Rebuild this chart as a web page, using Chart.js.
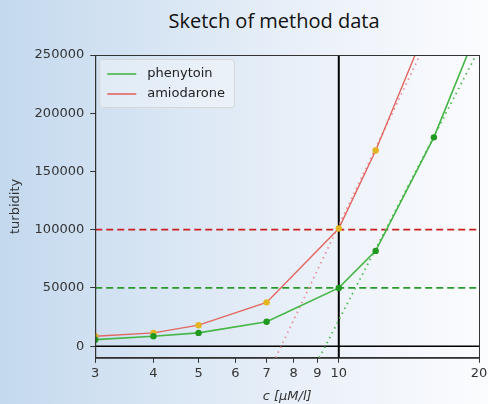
<!DOCTYPE html>
<html>
<head>
<meta charset="utf-8">
<script src="https://cdn.jsdelivr.net/npm/chart.js@4/dist/chart.umd.min.js"></script>
<style>
  html, body { margin: 0; padding: 0; }
  body {
    width: 488px; height: 404px; overflow: hidden; position: relative;
    background: linear-gradient(to right, #c4d9ee 0%, #d9e6f4 35%, #eef3fa 70%, #fbfcfe 100%);
  }
  #title {
    position: absolute; top: 7px; left: 274px; transform: translateX(-50%);
    font-family: "Open Sans", sans-serif; font-size: 20px; color: #111; white-space: nowrap;
  }
  #wrap { position: absolute; left: 0; top: 0; width: 488px; height: 404px; }
</style>
</head>
<body>
<div id="title">Sketch of method data</div>
<div id="wrap"><canvas id="chart"></canvas></div>
<script>
// concentrations (log axis) and turbidity readings
var conc = [3, 4, 5, 7, 10, 12, 16, 20];
var phenytoin = [5600, 8500, 11400, 21000, 50000, 81800, 179300, 275000];
var amiodarone = [8500, 11400, 18000, 37600, 101000, 168000, 289000];

// extrapolated tangent lines
var phenyTanX = [9.08, 19.71];
var phenyTanY = [-10000, 250000];
var amioTanX = [7.32, 14.94];
var amioTanY = [-10000, 250000];

// thresholds
var phenyLimit = 50000;
var amioLimit = 100000;
var markConc = 10;

var xTicks = [3, 4, 5, 6, 7, 8, 9, 10, 20];
var yTicks = [0, 50000, 100000, 150000, 200000, 250000];
var xMin = 3, xMax = 20, yMin = -10000, yMax = 250000;

function pts(xs, ys) {
  return ys.map(function (y, i) { return { x: xs[i], y: y }; });
}

var tickFont = { family: "DejaVu Sans", size: 13 };

var frame = {
  id: 'frame',
  afterDatasetsDraw: function (chart) {
    var a = chart.chartArea, ctx = chart.ctx;
    ctx.save();
    ctx.strokeStyle = '#333';
    ctx.lineWidth = 1;
    ctx.strokeRect(a.left + 0.5, a.top + 0.5, a.right - a.left, a.bottom - a.top);
    ctx.restore();
  }
};

var boxLegend = {
  id: 'boxLegend',
  afterDraw: function (chart) {
    var a = chart.chartArea, ctx = chart.ctx;
    var items = chart.data.datasets.filter(function (d) { return d.inLegend; });
    ctx.save();
    ctx.font = '13px "DejaVu Sans"';
    var w = 0;
    items.forEach(function (d) { w = Math.max(w, ctx.measureText(d.label).width); });
    var bx = a.left + 4, by = a.top + 4, bw = 57 + w, bh = 48;
    ctx.fillStyle = 'rgba(255,255,255,0.35)';
    ctx.strokeStyle = '#d6d6d6';
    ctx.lineWidth = 1;
    ctx.beginPath();
    ctx.roundRect(bx + 0.5, by + 0.5, bw, bh, 3);
    ctx.fill();
    ctx.stroke();
    items.forEach(function (d, i) {
      var y = by + 15 + i * 20;
      ctx.strokeStyle = d.borderColor;
      ctx.lineWidth = 1.6;
      ctx.beginPath();
      ctx.moveTo(bx + 8, y);
      ctx.lineTo(bx + 37, y);
      ctx.stroke();
      ctx.fillStyle = '#222';
      ctx.textBaseline = 'middle';
      ctx.fillText(d.label, bx + 48, y);
    });
    ctx.restore();
  }
};

new Chart(document.getElementById('chart'), {
  type: 'line',
  data: {
    datasets: [
      {
        label: 'phenytoin', inLegend: true,
        data: pts(conc, phenytoin),
        borderColor: '#45b545', backgroundColor: '#45b545', borderWidth: 1.6,
        pointRadius: 3.2, pointBackgroundColor: '#1f9a1f', pointBorderWidth: 0,
        order: 2
      },
      {
        label: 'amiodarone', inLegend: true,
        data: pts(conc, amiodarone),
        borderColor: '#e2665f', backgroundColor: '#e2665f', borderWidth: 1.4,
        pointRadius: 3.2, pointBackgroundColor: '#e4b422', pointBorderWidth: 0,
        order: 2
      },
      {
        label: 'phenytoin tangent',
        data: pts(phenyTanX, phenyTanY),
        borderColor: '#4fb84f', borderWidth: 1.8, borderDash: [1.5, 4],
        pointRadius: 0, order: 3
      },
      {
        label: 'amiodarone tangent',
        data: pts(amioTanX, amioTanY),
        borderColor: '#e8909c', borderWidth: 1.8, borderDash: [1.5, 4],
        pointRadius: 0, order: 3
      },
      {
        label: 'phenytoin limit',
        data: pts([xMin, xMax], [phenyLimit, phenyLimit]),
        borderColor: '#2a9a2a', borderWidth: 1.8, borderDash: [7, 4],
        pointRadius: 0, order: 4
      },
      {
        label: 'amiodarone limit',
        data: pts([xMin, xMax], [amioLimit, amioLimit]),
        borderColor: '#cc2020', borderWidth: 1.8, borderDash: [7, 4],
        pointRadius: 0, order: 4
      },
      {
        label: 'zero',
        data: pts([xMin, xMax], [0, 0]),
        borderColor: '#000', borderWidth: 1.5,
        pointRadius: 0, order: 5
      },
      {
        label: 'c = 10',
        data: pts([markConc, markConc], [yMin, yMax]),
        borderColor: '#000', borderWidth: 2,
        pointRadius: 0, order: 5
      }
    ]
  },
  options: {
    responsive: true,
    maintainAspectRatio: false,
    animation: false,
    layout: { padding: { left: 4, top: 55, right: 0, bottom: 0 } },
    plugins: {
      legend: { display: false },
      tooltip: { enabled: false }
    },
    scales: {
      x: {
        type: 'logarithmic', min: xMin, max: xMax,
        afterBuildTicks: function (s) { s.ticks = xTicks.map(function (v) { return { value: v }; }); },
        afterFit: function (s) { s.paddingRight = 9; },
        ticks: { font: tickFont, color: '#333', padding: 3, maxRotation: 0, autoSkip: false,
          callback: function (v) { return String(v); } },
        grid: { drawOnChartArea: false, tickLength: 5, color: '#333' },
        border: { color: '#333' },
        title: { display: true, text: 'c [μM/l]', color: '#333',
          font: { family: "DejaVu Sans", size: 13, style: 'italic' }, padding: { top: 4, bottom: 0 } }
      },
      y: {
        type: 'linear', min: yMin, max: yMax,
        afterBuildTicks: function (s) { s.ticks = yTicks.map(function (v) { return { value: v }; }); },
        ticks: { font: tickFont, color: '#333', padding: 6,
          callback: function (v) { return String(v); } },
        grid: { drawOnChartArea: false, tickLength: 5, color: '#333' },
        border: { color: '#333' },
        title: { display: true, text: 'turbidity', color: '#333',
          font: { family: "DejaVu Sans", size: 13 }, padding: { top: 4, bottom: 5 } }
      }
    }
  },
  plugins: [frame, boxLegend]
});
</script>
</body>
</html>
